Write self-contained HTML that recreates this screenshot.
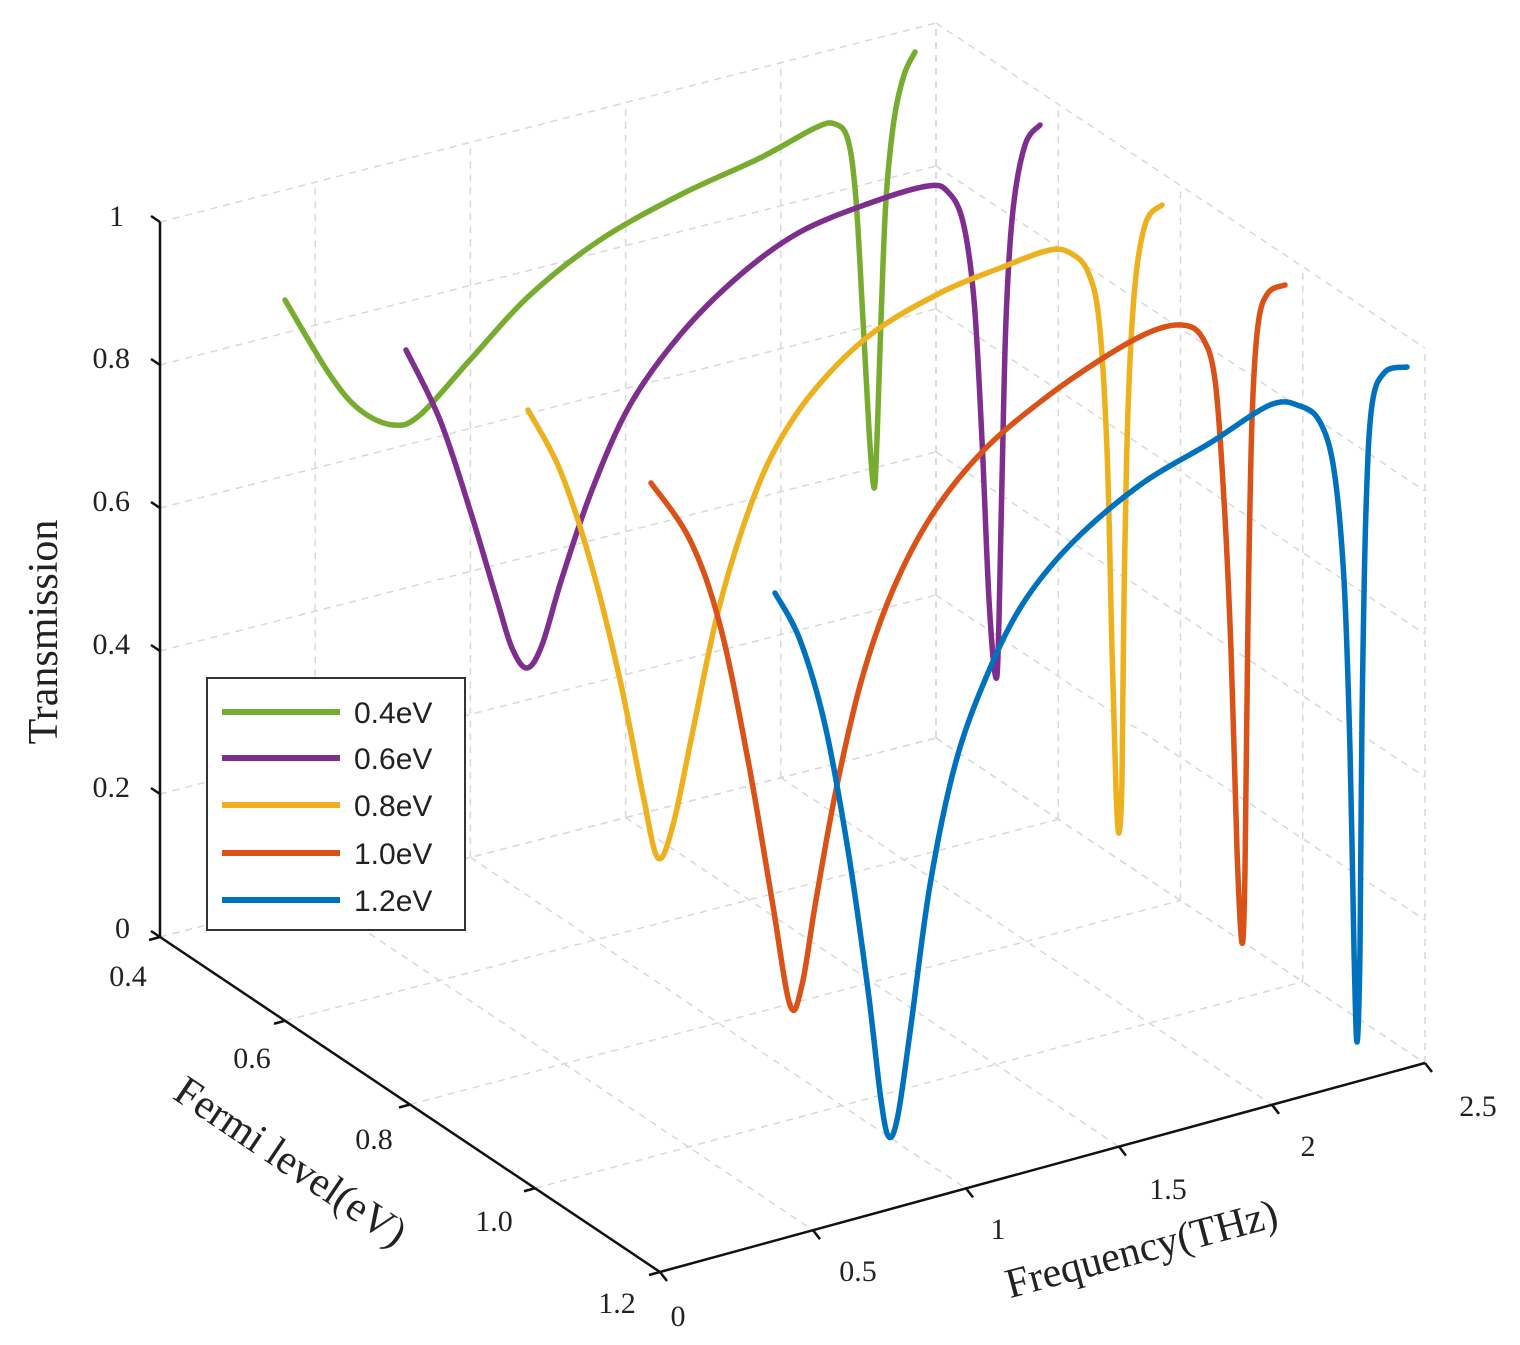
<!DOCTYPE html>
<html><head><meta charset="utf-8"><style>
html,body{margin:0;padding:0;background:#fff}
svg{display:block}
text{font-family:"Liberation Serif",serif;fill:#222}
</style></head><body>
<svg id="s" width="1520" height="1345" viewBox="0 0 1520 1345" xmlns="http://www.w3.org/2000/svg">
<g id="grid" stroke="#d8d8d8" stroke-width="1.5" stroke-dasharray="7,6" fill="none"></g>
<g id="axes" stroke="#111" stroke-width="2.5" fill="none">
<line x1="160" y1="222" x2="160" y2="937"/>
<line x1="160" y1="937" x2="660" y2="1272"/>
<line x1="660" y1="1272" x2="1425" y2="1063"/>
</g>
<g id="ticks" stroke="#111" stroke-width="2.5" fill="none"></g>
<g id="curves" fill="none" stroke-width="5.5" stroke-linecap="round" stroke-linejoin="round"></g>
<g font-size="30">
<text x="124" y="226" text-anchor="end">1</text>
<text x="130" y="368" text-anchor="end">0.8</text>
<text x="130" y="511" text-anchor="end">0.6</text>
<text x="130" y="654" text-anchor="end">0.4</text>
<text x="130" y="797" text-anchor="end">0.2</text>
<text x="130" y="938" text-anchor="end">0</text>
<text x="128" y="986" text-anchor="middle">0.4</text>
<text x="252" y="1068" text-anchor="middle">0.6</text>
<text x="374" y="1149" text-anchor="middle">0.8</text>
<text x="494" y="1231" text-anchor="middle">1.0</text>
<text x="617" y="1313" text-anchor="middle">1.2</text>
<text x="678" y="1326" text-anchor="middle">0</text>
<text x="858" y="1281" text-anchor="middle">0.5</text>
<text x="998" y="1239" text-anchor="middle">1</text>
<text x="1168" y="1199" text-anchor="middle">1.5</text>
<text x="1308" y="1156" text-anchor="middle">2</text>
<text x="1478" y="1116" text-anchor="middle">2.5</text>
</g>
<text font-size="42" text-anchor="middle" transform="translate(57,632) rotate(-90)">Transmission</text>
<text font-size="42" text-anchor="middle" transform="translate(283,1173) rotate(34)">Fermi level(eV)</text>
<text font-size="42" text-anchor="middle" transform="translate(1145,1262) rotate(-15)">Frequency(THz)</text>
<g>
<rect x="207" y="678" width="258" height="252" fill="#fff" stroke="#333" stroke-width="2"/>
<g stroke-width="6">
<line x1="222" y1="712" x2="340" y2="712" stroke="#77ac30"/>
<line x1="222" y1="758" x2="340" y2="758" stroke="#7e2f8e"/>
<line x1="222" y1="805" x2="340" y2="805" stroke="#edb120"/>
<line x1="222" y1="853" x2="340" y2="853" stroke="#d95319"/>
<line x1="222" y1="900" x2="340" y2="900" stroke="#0072bd"/>
</g>
<g font-size="30">
<text x="354" y="723" style="font-family:'Liberation Sans',sans-serif">0.4eV</text>
<text x="354" y="769" style="font-family:'Liberation Sans',sans-serif">0.6eV</text>
<text x="354" y="816" style="font-family:'Liberation Sans',sans-serif">0.8eV</text>
<text x="354" y="864" style="font-family:'Liberation Sans',sans-serif">1.0eV</text>
<text x="354" y="911" style="font-family:'Liberation Sans',sans-serif">1.2eV</text>
</g>
</g>
</svg>
<script>
(function(){
var NS="http://www.w3.org/2000/svg";
var A=[160,937],B=[936,738],C=[660,1272],D=[1425,1063];
function floor(f,E){var u=f/2.5,v=(E-0.4)/0.8;
var x=A[0]*(1-u)*(1-v)+B[0]*u*(1-v)+C[0]*(1-u)*v+D[0]*u*v;
var y=A[1]*(1-u)*(1-v)+B[1]*u*(1-v)+C[1]*(1-u)*v+D[1]*u*v;return [x,y];}
function line(g,p,q){var l=document.createElementNS(NS,"line");l.setAttribute("x1",p[0]);l.setAttribute("y1",p[1]);l.setAttribute("x2",q[0]);l.setAttribute("y2",q[1]);g.appendChild(l);}
var g=document.getElementById("grid"),H=715;
var fs=[0,0.5,1,1.5,2,2.5],Es=[0.4,0.6,0.8,1.0,1.2],Ts=[0,0.2,0.4,0.6,0.8,1];
fs.forEach(function(f){var p=floor(f,0.4);line(g,p,[p[0],p[1]-H]);});
Ts.forEach(function(t){var p=floor(0,0.4),q=floor(2.5,0.4);line(g,[p[0],p[1]-t*H],[q[0],q[1]-t*H]);});
Es.forEach(function(E){var p=floor(2.5,E);line(g,p,[p[0],p[1]-H]);});
Ts.forEach(function(t){var p=floor(2.5,0.4),q=floor(2.5,1.2);line(g,[p[0],p[1]-t*H],[q[0],q[1]-t*H]);});
fs.forEach(function(f){line(g,floor(f,0.4),floor(f,1.2));});
Es.forEach(function(E){line(g,floor(0,E),floor(2.5,E));});
var tk=document.getElementById("ticks");
Ts.forEach(function(t){var y=937-t*H;line(tk,[160,y],[151,y-6]);});
Es.forEach(function(E){var p=floor(0,E);line(tk,p,[p[0]-11,p[1]+3]);});
fs.forEach(function(f){var p=floor(f,1.2);line(tk,p,[p[0]+7,p[1]+9]);});
var data=[
["#77ac30",[[285,300],[330,375],[360,410],[393,425],[420,415],[470,360],[530,295],[600,240],[680,195],[760,158],[815,128],[835,124],[848,140],[856,200],[863,320],[869,430],[874,488],[877,440],[881,320],[886,200],[894,120],[904,75],[915,52]]],
["#7e2f8e",[[406,350],[440,420],[470,510],[497,600],[512,648],[527,668],[542,645],[562,578],[592,490],[630,405],[680,335],[740,275],[800,232],[870,203],[928,186],[948,192],[963,222],[974,300],[982,440],[989,600],[996,678],[999,620],[1002,480],[1006,320],[1013,210],[1025,145],[1040,125]]],
["#edb120",[[528,410],[560,470],[590,560],[620,680],[643,795],[658,858],[673,825],[692,735],[716,620],[742,530],[772,455],[812,393],[870,335],[940,293],[1000,268],[1050,250],[1072,254],[1088,272],[1099,320],[1107,450],[1112,650],[1116,790],[1119,833],[1122,780],[1124,600],[1128,410],[1135,285],[1146,222],[1162,205]]],
["#d95319",[[651,483],[690,540],[720,625],[748,760],[772,900],[790,1005],[802,985],[816,900],[836,790],[861,682],[892,592],[932,515],[982,452],[1040,402],[1100,360],[1150,332],[1182,325],[1202,337],[1215,380],[1224,500],[1231,650],[1237,850],[1242,943],[1245,870],[1248,620],[1252,420],[1258,325],[1268,293],[1285,285]]],
["#0072bd",[[775,593],[800,640],[825,725],[848,850],[868,990],[881,1100],[889,1137],[898,1115],[911,1025],[930,885],[955,765],[985,680],[1022,605],[1072,543],[1140,485],[1210,443],[1270,405],[1300,406],[1320,422],[1334,470],[1344,580],[1350,750],[1354,950],[1357,1042],[1360,950],[1362,720],[1366,510],[1372,405],[1385,372],[1407,367]]]
];
var cg=document.getElementById("curves");
data.forEach(function(d){var P=d[1],s="M"+P[0][0]+","+P[0][1];
for(var i=0;i<P.length-1;i++){var p0=P[i>0?i-1:0],p1=P[i],p2=P[i+1],p3=P[i+2<P.length?i+2:i+1];
var c1=[p1[0]+(p2[0]-p0[0])/6,p1[1]+(p2[1]-p0[1])/6],c2=[p2[0]-(p3[0]-p1[0])/6,p2[1]-(p3[1]-p1[1])/6];
s+=" C"+c1[0].toFixed(1)+","+c1[1].toFixed(1)+" "+c2[0].toFixed(1)+","+c2[1].toFixed(1)+" "+p2[0]+","+p2[1];}
var pa=document.createElementNS(NS,"path");pa.setAttribute("d",s);pa.setAttribute("stroke",d[0]);cg.appendChild(pa);});
})();
</script>
</body></html>
